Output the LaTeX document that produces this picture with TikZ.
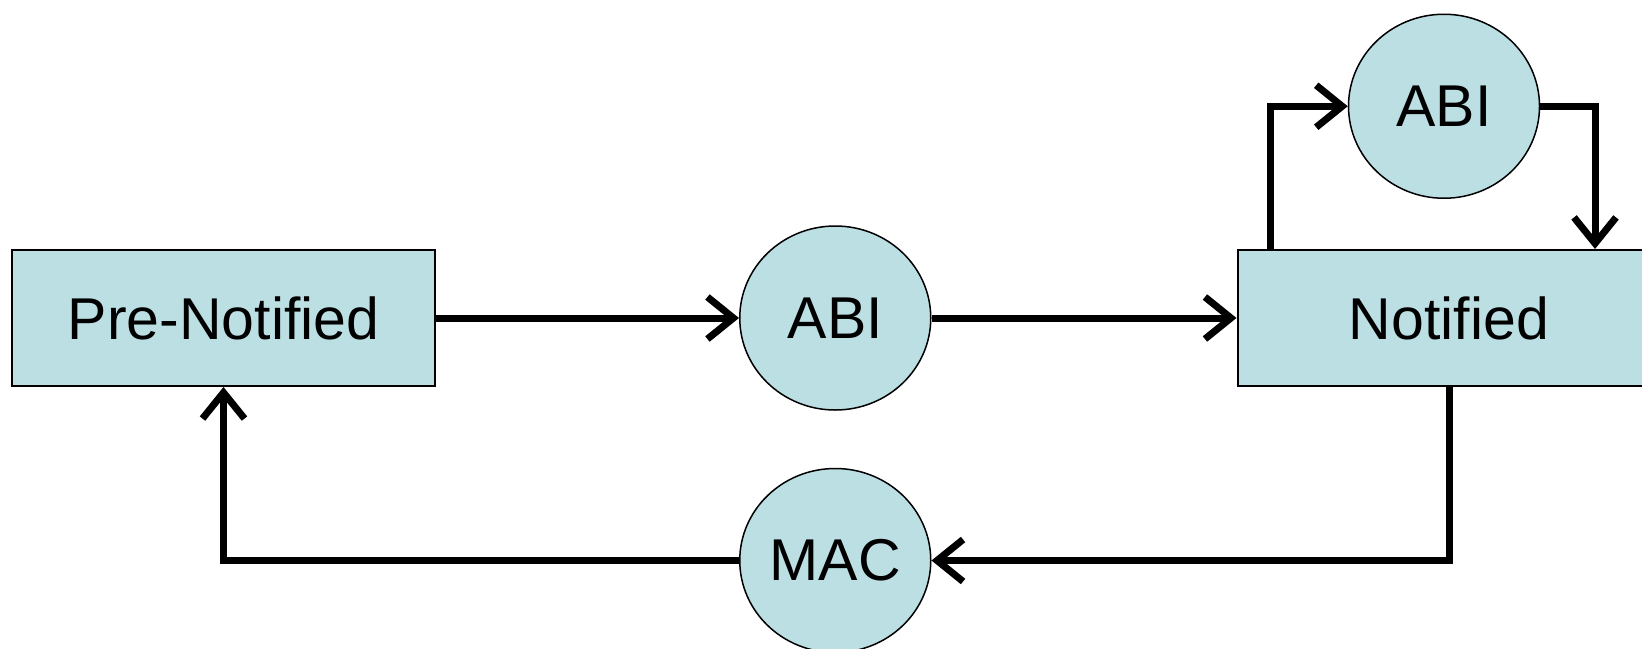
\documentclass[tikz,border=0pt]{standalone}
\usepackage{fontspec}
\setmainfont{Liberation Sans}
\usetikzlibrary{positioning, shapes.geometric, arrows.meta}
\definecolor{stateblue}{RGB}{188,223,228}

\begin{document}
\begin{tikzpicture}[
        font=\fontsize{29.5}{34}\selectfont,
        >={Straight Barb[length=13pt, width=21pt]},
        statebox/.style={draw, fill=stateblue, line width=1pt, minimum width=211.5pt, minimum height=68pt, inner sep=0pt},
        event/.style={draw, ellipse, fill=stateblue, line width=0.75pt, minimum width=95.5pt, minimum height=92pt, inner sep=0pt},
        link/.style={line width=3.5pt}]
        \useasboundingbox (0,0) rectangle (821pt,-324pt);
        \clip (0,0) rectangle (821pt,-324pt);

        \node[statebox]                               (pre)    at (111.75pt,-159pt) {Pre-Notified};
        \node[event, right=151.5pt of pre]            (abi1)   {ABI};
        \node[statebox, right=152.5pt of abi1]        (notif)  {Notified};
        \node[event, above=25pt of notif, xshift=-2.5pt] (abi2) {ABI};
        \node[event, below=28.5pt of abi1]            (mac)    {MAC};

        \draw[->, link] (pre)  -- (abi1);
        \draw[->, link] (abi1) -- (notif);
        \draw[->, link] ([xshift=-89.5pt]notif.north) |- (abi2);
        \draw[->, link] (abi2) -| ([xshift=73pt]notif.north);
        \draw[->, link] (notif) |- (mac);
        \draw[->, link] (mac)  -| (pre);
    \end{tikzpicture}
\end{document}
